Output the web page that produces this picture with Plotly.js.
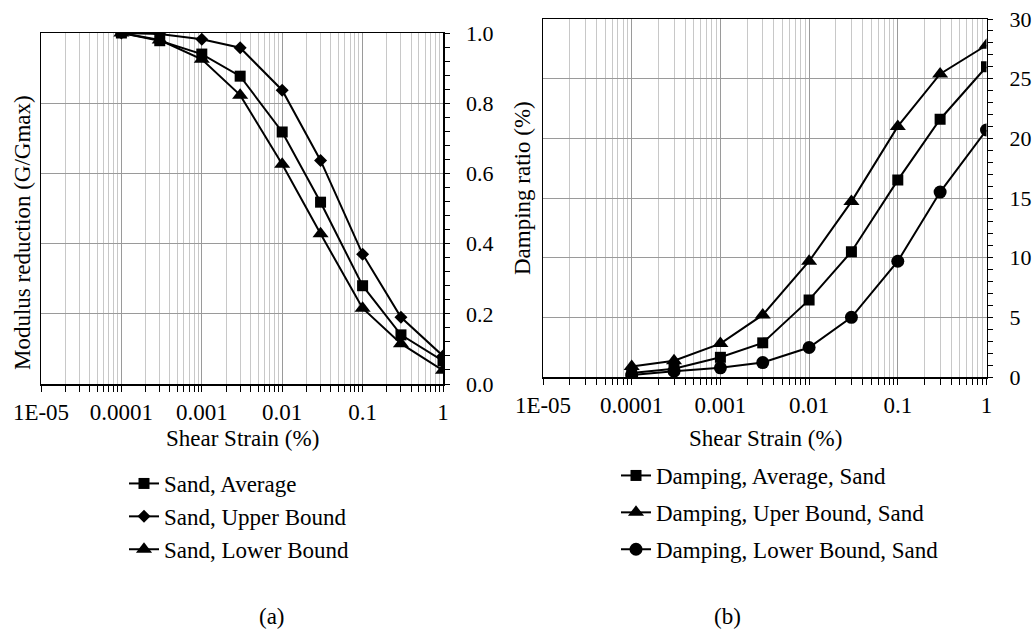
<!DOCTYPE html>
<html><head><meta charset="utf-8">
<script src="https://cdn.plot.ly/plotly-3.0.1.min.js"></script>
<style>html,body{margin:0;padding:0;background:#fff}</style>
</head><body><div id="chart" style="width:1034px;height:632px"></div>
<script>
const strain = [0.0001, 0.0003, 0.001, 0.003, 0.01, 0.03, 0.1, 0.3, 1];
const modAverage = [1.0, 0.978, 0.94, 0.877, 0.718, 0.518, 0.28, 0.14, 0.066];
const modUpper = [1.0, 0.997, 0.982, 0.958, 0.837, 0.637, 0.37, 0.19, 0.08];
const modLower = [1.0, 0.98, 0.925, 0.823, 0.626, 0.428, 0.216, 0.115, 0.039];
const dampAverage = [0.33, 0.69, 1.65, 2.86, 6.46, 10.5, 16.5, 21.6, 26.0];
const dampUpper = [0.88, 1.37, 2.8, 5.2, 9.7, 14.7, 21.0, 25.4, 27.8];
const dampLower = [0.16, 0.49, 0.77, 1.21, 2.47, 5.0, 9.7, 15.5, 20.7];
const xTickVals = [1e-5, 1e-4, 1e-3, 1e-2, 1e-1, 1];
const xTickText = ['1E-05', '0.0001', '0.001', '0.01', '0.1', '1'];
const modTickVals = [0, 0.2, 0.4, 0.6, 0.8, 1.0];
const modTickText = ['0.0', '0.2', '0.4', '0.6', '0.8', '1.0'];
const dampTickVals = [0, 5, 10, 15, 20, 25, 30];
const dampTickText = ['0', '5', '10', '15', '20', '25', '30'];
const modNames = ['Sand, Average', 'Sand, Upper Bound', 'Sand, Lower Bound'];
const dampNames = ['Damping, Average, Sand', 'Damping, Uper Bound, Sand', 'Damping, Lower Bound, Sand'];

const W = 1034, H = 632;
const FONT = '"Liberation Serif", "DejaVu Serif", serif';
const px = v => v / W;
const py = v => 1 - v / H;

const minorVals = [];
for (let k = -5; k < 0; k++) for (let m = 2; m <= 9; m++) minorVals.push(m * Math.pow(10, k));

function tr(x, y, name, symbol, size, xa, ya, leg, grp) {
  return {x: x, y: y, name: name, type: 'scatter', mode: 'lines+markers',
    xaxis: xa, yaxis: ya, legend: leg, legendgroup: grp,
    line: {color: '#000', width: 2},
    marker: {symbol: symbol, size: size, color: '#000'}};
}

const data = [
  tr(strain, modAverage, modNames[0], 'square', 11, 'x', 'y', 'legend', 'a1'),
  tr(strain, modUpper, modNames[1], 'diamond', 10, 'x', 'y', 'legend', 'a2'),
  tr(strain, modLower, modNames[2], 'triangle-up', 14, 'x', 'y', 'legend', 'a3'),
  tr(strain, dampAverage, dampNames[0], 'square', 11, 'x2', 'y2', 'legend2', 'b1'),
  tr(strain, dampUpper, dampNames[1], 'triangle-up', 14, 'x2', 'y2', 'legend2', 'b2'),
  tr(strain, dampLower, dampNames[2], 'circle', 13, 'x2', 'y2', 'legend2', 'b3')
];

const tf = {family: FONT, size: 23, color: '#000'};

function xaxis(dom, anchor) {
  return {type: 'log', domain: dom, anchor: anchor, range: [-5, 0],
    tickmode: 'array', tickvals: xTickVals, ticktext: xTickText,
    ticks: 'outside', ticklen: 6, tickwidth: 1, tickcolor: '#000',
    ticklabelstandoff: 1,
    showline: true, linecolor: '#000', linewidth: 1.5, mirror: true,
    showgrid: true, gridcolor: '#9a9a9a', gridwidth: 1,
    minor: {tickmode: 'array', tickvals: minorVals, ticks: 'outside', ticklen: 6, tickwidth: 1, tickcolor: '#000',
      showgrid: true, gridcolor: '#c8c8c8', gridwidth: 1},
    zeroline: false, tickfont: tf};
}
function yaxis(dom, anchor, range, tv, tt, mdt, standoff) {
  return {domain: dom, anchor: anchor, range: range, side: 'right',
    tickmode: 'array', tickvals: tv, ticktext: tt,
    ticks: 'outside', ticklen: 5, tickwidth: 1, tickcolor: '#000',
    ticklabelstandoff: standoff,
    showline: true, linecolor: '#000', linewidth: 1.5, mirror: true,
    showgrid: true, gridcolor: '#9a9a9a', gridwidth: 1,
    minor: {dtick: mdt, ticks: 'outside', ticklen: 5, tickwidth: 1, tickcolor: '#000', showgrid: false},
    zeroline: false, tickfont: {family: FONT, size: 22, color: '#000'}};
}

function ann(text, x, y, angle) {
  return {text: text, textangle: angle || 0, x: px(x), y: py(y), xref: 'paper', yref: 'paper',
    xanchor: 'center', yanchor: 'middle', showarrow: false, font: tf};
}

const layout = {
  width: W, height: H, margin: {l: 0, r: 0, t: 0, b: 0},
  paper_bgcolor: '#fff', plot_bgcolor: '#fff', showlegend: true,
  font: tf,
  xaxis: xaxis([px(41), px(443)], 'y'),
  yaxis: yaxis([py(384), py(33)], 'x', [0, 1], modTickVals, modTickText, 0.04, 12),
  xaxis2: xaxis([px(543), px(986.5)], 'y2'),
  yaxis2: yaxis([py(377), py(19)], 'x2', [0, 30], dampTickVals, dampTickText, 1, 12),
  legend: {x: px(124), y: py(462), xanchor: 'left', yanchor: 'top', font: tf,
    bgcolor: 'rgba(0,0,0,0)', borderwidth: 0, tracegroupgap: 0},
  legend2: {x: px(616), y: py(454), xanchor: 'left', yanchor: 'top', font: tf,
    bgcolor: 'rgba(0,0,0,0)', borderwidth: 0, tracegroupgap: 4},
  annotations: [
    ann('Shear Strain (%)', 242, 438),
    ann('Shear Strain (%)', 765, 438),
    ann('Modulus reduction (G/Gmax)', 23, 233, -90),
    ann('Damping ratio (%)', 522, 188, -90),
    ann('(a)', 272, 616),
    ann('(b)', 727, 616)
  ]
};

Plotly.newPlot('chart', data, layout, {displayModeBar: false, staticPlot: true});
</script></body></html>
